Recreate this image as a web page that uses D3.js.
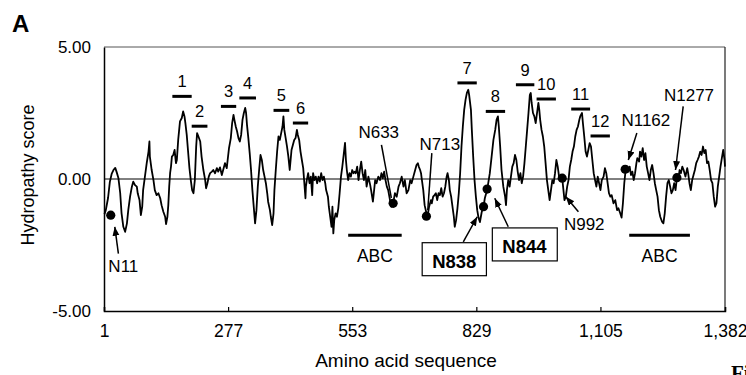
<!DOCTYPE html>
<html><head><meta charset="utf-8">
<script src="https://cdn.jsdelivr.net/npm/d3@7"></script>
<style>html,body{margin:0;padding:0;background:#fff;} svg{display:block;font-family:"Liberation Sans",Arial,Helvetica,sans-serif;}</style>
</head><body><svg id="c" width="746" height="375"></svg>
<script>
// Hydropathy profile: [residue, score]
const profile = [
[2,-1.33],[5,-1.18],[10,-0.72],[14,-0.11],[18,0.19],[22,0.34],[26,0.42],[29,0.27],[33,0.04],[37,-0.53],
[40,-1.29],[44,-1.81],[48,-2.00],[52,-1.68],[55,-1.18],[59,-0.67],[63,-0.29],[66,-0.10],[70,-0.23],[74,-0.29],
[76,-0.54],[80,-0.80],[83,-1.37],[86,-1.05],[88,-0.42],[92,0.09],[96,0.60],[100,1.04],[102,1.42],[103,0.85],
[107,0.34],[111,-0.04],[114,-0.42],[118,-0.61],[122,-0.54],[126,-0.73],[129,-0.99],[133,-1.24],[137,-1.43],[139,-1.71],
[142,-1.43],[144,-0.99],[146,-0.29],[148,0.22],[150,0.47],[152,0.85],[155,0.91],[158,1.10],[161,0.60],[163,0.72],
[166,1.48],[170,2.18],[174,2.31],[177,2.56],[180,2.37],[182,2.12],[185,1.67],[188,1.04],[191,0.41],[194,-0.04],
[197,-0.42],[200,-0.54],[203,-0.04],[206,1.23],[208,1.74],[211,1.61],[215,1.42],[218,0.85],[222,0.34],[226,-0.04],
[228,-0.35],[231,-0.16],[234,0.09],[237,0.22],[241,0.28],[244,0.34],[248,0.22],[252,0.41],[255,0.28],[259,0.44],
[263,0.15],[266,0.34],[270,0.60],[274,0.41],[276,0.72],[279,1.17],[283,1.55],[286,2.12],[289,2.43],[291,2.24],
[294,1.99],[297,1.80],[300,1.55],[303,1.42],[306,1.67],[309,2.24],[312,2.50],[315,2.69],[317,2.50],[319,2.05],
[322,1.55],[325,0.98],[328,0.34],[331,-0.42],[334,-1.05],[337,-1.68],[340,-1.18],[343,-0.29],[346,0.34],[349,0.91],
[352,0.72],[355,0.34],[358,0.09],[361,-0.16],[364,-0.54],[366,-0.86],[370,-1.18],[372,-1.43],[375,-1.75],[378,-1.30],
[380,-0.42],[383,0.34],[386,1.04],[389,1.61],[392,1.48],[395,1.74],[398,1.99],[400,2.37],[402,1.86],[405,1.55],
[408,1.23],[411,0.85],[414,0.34],[416,0.72],[418,1.10],[421,1.29],[424,1.48],[427,1.55],[430,1.86],[432,1.67],
[435,1.48],[438,1.04],[441,0.72],[444,0.41],[446,-0.04],[449,-0.73],[450,-0.29],[452,-0.04],[455,0.22],[458,-0.16],
[461,0.09],[464,-0.61],[466,0.22],[469,-0.04],[472,0.09],[475,-0.16],[478,0.09],[481,-0.10],[484,0.22],[487,-0.04],
[490,0.09],[493,-0.16],[495,-0.42],[499,-0.67],[501,-1.05],[504,-1.43],[507,-1.81],[509,-1.05],[511,-2.06],[513,-1.56],
[516,-1.30],[519,-1.43],[522,-1.11],[525,-0.54],[528,0.09],[531,0.47],[534,0.91],[537,1.37],[539,0.72],[541,0.34],
[544,-0.04],[547,0.22],[550,0.09],[553,0.34],[556,0.22],[559,0.28],[561,0.22],[564,0.47],[567,-0.04],[570,0.34],
[573,0.66],[576,0.22],[579,-0.04],[582,0.34],[585,-0.29],[589,0.09],[593,-0.23],[595,-0.42],[599,-0.86],[601,-0.54],
[604,-0.04],[607,-0.16],[611,0.09],[615,-0.04],[618,0.22],[621,0.03],[624,0.28],[627,-0.04],[630,-0.29],[633,-0.42],
[637,-0.80],[640,-1.05],[644,-0.92],[648,-0.54],[652,-0.67],[656,-0.29],[659,-0.16],[663,0.09],[667,-0.29],[670,-0.04],
[674,-0.54],[678,-0.42],[682,-0.04],[685,-0.16],[689,0.09],[693,0.34],[696,0.53],[699,0.60],[701,0.47],[704,0.34],
[706,0.22],[708,-0.04],[711,-0.42],[714,-0.99],[719,-1.37],[722,-1.25],[724,-1.05],[728,-0.80],[730,-0.92],[733,-0.67],
[736,-0.61],[739,-0.54],[742,-0.80],[745,-0.54],[748,-0.61],[751,-0.35],[754,-0.67],[757,-0.54],[760,-0.29],[763,0.09],
[765,0.22],[768,-0.04],[770,-0.42],[773,-0.67],[777,-1.18],[779,-1.43],[781,-1.81],[784,-1.56],[787,-1.11],[790,-0.54],
[793,0.22],[796,1.23],[799,1.99],[802,2.62],[805,3.00],[808,3.26],[811,3.38],[813,3.19],[817,2.62],[819,1.86],
[822,0.85],[825,-0.04],[828,-0.67],[831,-1.18],[834,-1.48],[837,-1.63],[841,-1.25],[845,-1.05],[848,-0.72],[853,-0.42],
[859,0.22],[863,0.85],[867,1.48],[871,1.86],[874,2.24],[877,2.37],[879,1.99],[882,1.23],[885,0.34],[889,-0.29],
[893,-0.67],[895,-0.99],[897,-0.42],[900,-0.04],[903,-0.29],[906,0.09],[909,0.47],[912,0.60],[915,0.91],[918,0.72],
[921,0.28],[924,-0.04],[927,0.22],[930,-0.16],[933,0.09],[936,0.60],[939,1.23],[942,1.86],[945,2.50],[948,3.19],
[950,3.26],[952,2.88],[955,2.50],[958,2.37],[961,2.12],[964,2.50],[967,2.88],[969,2.62],[971,2.24],[974,1.86],
[977,1.61],[980,1.23],[983,0.60],[986,-0.04],[989,-0.42],[992,-0.80],[995,-0.42],[998,-0.04],[1001,-0.16],[1004,0.22],
[1007,0.72],[1010,0.47],[1013,0.09],[1016,-0.04],[1020,0.03],[1025,-0.80],[1028,-0.67],[1031,-0.29],[1034,-0.04],[1037,0.47],
[1040,0.72],[1043,1.04],[1046,1.23],[1049,1.61],[1052,1.86],[1055,1.99],[1058,2.24],[1060,2.37],[1064,2.50],[1066,2.12],
[1069,1.61],[1072,1.04],[1075,0.85],[1078,1.10],[1081,1.36],[1084,1.23],[1087,0.72],[1090,0.22],[1093,-0.04],[1096,-0.29],
[1099,0.09],[1102,-0.16],[1105,-0.42],[1108,-0.04],[1112,0.09],[1115,0.41],[1118,0.22],[1121,-0.16],[1124,-0.54],[1127,-0.67],
[1130,-0.61],[1134,-0.92],[1138,-0.80],[1142,-1.18],[1145,-1.11],[1149,-1.30],[1152,-1.46],[1155,-0.92],[1158,-0.16],[1161,0.34],
[1164,0.47],[1167,0.28],[1170,0.47],[1173,0.15],[1176,0.28],[1179,-0.04],[1182,0.22],[1185,0.60],[1187,0.79],[1191,0.66],
[1193,1.04],[1196,0.85],[1199,1.17],[1202,0.72],[1205,0.98],[1208,0.47],[1211,0.22],[1214,-0.04],[1217,0.34],[1220,0.53],
[1223,0.22],[1226,-0.16],[1229,-0.42],[1232,-0.67],[1235,-1.18],[1238,-1.43],[1242,-1.62],[1245,-1.68],[1248,-1.30],[1251,-0.67],
[1254,-0.16],[1257,-0.04],[1260,-0.29],[1263,-0.54],[1266,-0.42],[1269,-0.16],[1272,-0.42],[1275,0.04],[1278,-0.04],[1281,0.34],
[1284,0.22],[1287,0.47],[1290,0.34],[1294,0.09],[1298,0.41],[1300,0.22],[1303,-0.16],[1306,-0.42],[1309,-0.04],[1312,0.15],
[1315,0.34],[1318,0.60],[1321,0.72],[1324,0.85],[1327,1.04],[1330,0.91],[1333,1.23],[1336,0.98],[1339,1.10],[1342,0.60],
[1345,0.66],[1348,0.34],[1351,-0.04],[1354,-0.16],[1357,-0.67],[1360,-1.05],[1363,-0.92],[1366,-0.29],[1369,0.09],[1372,0.47],
[1375,0.79],[1378,1.10],[1381,0.72],[1382,0.47]
];
const xTicks = [1, 277, 553, 829, 1105, 1382];
const yTicks = [-5, 0, 5];

// Transmembrane segments
const tmLabels = ["1","2","3","4","5","6","7","8","9","10","11","12"];
const tmStart  = [153,196,261,302,378,421,787,850,917,963,1040,1083];
const tmEnd    = [196,231,295,339,413,455,830,893,958,1006,1082,1126];
const tmScore  = [3.13,2.00,2.75,3.07,2.60,2.12,3.64,2.56,3.57,3.03,2.65,1.63];

// ABC domains
const abcLabels = ["ABC","ABC"];
const abcStart = [544, 1169];
const abcEnd   = [663, 1304];
const abcScore = [-2.13, -2.13];

// Glycosylation sites
const siteLabels = ["N11","N633","N713","N838","N844","N992","N1162","N1277"];
const siteRes    = [16, 644, 718, 845, 853, 1020, 1160, 1275];
const siteScore  = [-1.37, -0.92, -1.41, -1.05, -0.38, 0.03, 0.37, 0.05];

const m = {l:104, r:725, t:47, b:311};
const svg = d3.select("#c");
const x = d3.scaleLinear().domain([1,1382]).range([m.l, m.r]);
const y = d3.scaleLinear().domain([-5,5]).range([m.b, m.t]);

svg.append("defs").append("marker")
  .attr("id","ah").attr("markerUnits","userSpaceOnUse")
  .attr("markerWidth",10).attr("markerHeight",8)
  .attr("refX",9).attr("refY",3.5).attr("orient","auto")
  .append("path").attr("d","M0,0 L9,3.5 L0,7 Z").attr("fill","#000");

// frame
svg.append("line").attr("x1",m.l).attr("x2",m.r).attr("y1",m.t).attr("y2",m.t).attr("stroke","#555").attr("stroke-width",1);
svg.append("line").attr("x1",m.r).attr("x2",m.r).attr("y1",m.t).attr("y2",m.b).attr("stroke","#222").attr("stroke-width",1.2);

// zero line
svg.append("line").attr("x1",m.l).attr("x2",m.r).attr("y1",y(0)).attr("y2",y(0)).attr("stroke","#000").attr("stroke-width",1);

// axes
const xa = svg.append("g").attr("transform",`translate(0,${m.b})`)
  .call(d3.axisBottom(x).tickValues(xTicks).tickFormat(d3.format(",")).tickSize(-4).tickPadding(0));
xa.select(".domain").attr("stroke","#000").attr("stroke-width",1.5);
xa.selectAll(".tick line").attr("stroke","#000").attr("stroke-width",1.2);
xa.selectAll(".tick text").attr("y",26).attr("dy",0).attr("font-size",17.5).attr("fill","#000")
  .attr("font-family",'"Liberation Sans",Arial,sans-serif');

const ya = svg.append("g").attr("transform",`translate(${m.l},0)`)
  .call(d3.axisLeft(y).tickValues(yTicks).tickFormat(d => d.toFixed(2)).tickSize(0).tickPadding(13));
ya.select(".domain").attr("stroke","#000").attr("stroke-width",1.5);
ya.selectAll(".tick text").attr("font-size",17).attr("fill","#000")
  .attr("font-family",'"Liberation Sans",Arial,sans-serif');

// profile line
svg.append("path").datum(profile)
  .attr("d", d3.line().x(d => x(d[0])).y(d => y(d[1])))
  .attr("fill","none").attr("stroke","#000").attr("stroke-width",1.8).attr("stroke-linejoin","round");

// TM bars
tmLabels.forEach((lab,i) => {
  svg.append("line").attr("x1",x(tmStart[i])).attr("x2",x(tmEnd[i]))
    .attr("y1",y(tmScore[i])).attr("y2",y(tmScore[i])).attr("stroke","#000").attr("stroke-width",3);
  svg.append("text").attr("x",(x(tmStart[i])+x(tmEnd[i]))/2).attr("y",y(tmScore[i])-9)
    .attr("text-anchor","middle").attr("font-size",16.5).text(lab);
});

// ABC bars
abcLabels.forEach((lab,i) => {
  svg.append("line").attr("x1",x(abcStart[i])).attr("x2",x(abcEnd[i]))
    .attr("y1",y(abcScore[i])).attr("y2",y(abcScore[i])).attr("stroke","#000").attr("stroke-width",3);
  svg.append("text").attr("x",(x(abcStart[i])+x(abcEnd[i]))/2).attr("y",y(abcScore[i])+27)
    .attr("text-anchor","middle").attr("font-size",17.5).text(lab);
});

// site annotations (label anchor and arrow in data units)
const notes = {
  "N11":   {tx:44,   ty:-3.52, from:[33,-2.83],  to:[25,-1.81],  head:true},
  "N633":  {tx:612,  ty:1.55,  from:[618,1.29],  to:[640,-0.72], head:false},
  "N713":  {tx:748,  ty:1.10,  from:[730,0.98],  to:[721,-1.18], head:false},
  "N838":  {tx:780,  ty:-3.36, from:[800,-2.38], to:[831,-1.43], head:true, box:true},
  "N844":  {tx:936,  ty:-2.80, from:[900,-1.81], to:[870,-0.73], head:true, box:true},
  "N992":  {tx:1069, ty:-1.94, from:[1056,-1.24],to:[1028,-0.67],head:true},
  "N1162": {tx:1206, ty:1.99,  from:[1186,1.74], to:[1167,0.72], head:true},
  "N1277": {tx:1302, ty:2.94,  from:[1289,2.75], to:[1272,0.34], head:true}
};

siteLabels.forEach(lab => {
  const n = notes[lab];
  const ln = svg.append("line").attr("x1",x(n.from[0])).attr("y1",y(n.from[1]))
    .attr("x2",x(n.to[0])).attr("y2",y(n.to[1])).attr("stroke","#000").attr("stroke-width",1.5);
  if (n.head) ln.attr("marker-end","url(#ah)");
  const g = svg.append("g");
  const r = n.box ? g.append("rect") : null;
  const t = g.append("text").attr("x",x(n.tx)).attr("y",y(n.ty)).attr("text-anchor","middle")
    .attr("font-size", n.box ? 18.5 : 17).attr("font-weight", n.box ? "bold" : "normal").text(lab);
  if (r) {
    const bb = t.node().getBBox();
    r.attr("x",bb.x-10).attr("y",bb.y-8).attr("width",bb.width+20).attr("height",bb.height+12)
      .attr("fill","#fff").attr("stroke","#000").attr("stroke-width",1.2);
  }
});

// dots
svg.selectAll("circle.site").data(siteRes).enter().append("circle").attr("class","site")
  .attr("cx",d => x(d)).attr("cy",(d,i) => y(siteScore[i])).attr("r",4.6).attr("fill","#000");

// titles
svg.append("text").attr("x",12).attr("y",32).attr("font-size",24).attr("font-weight","bold").text("A");
svg.append("text").attr("transform","translate(34,175) rotate(-90)").attr("text-anchor","middle")
  .attr("font-size",18).text("Hydropathy score");
svg.append("text").attr("x",406).attr("y",367).attr("text-anchor","middle").attr("font-size",19).text("Amino acid sequence");
svg.append("text").attr("x",731).attr("y",380).attr("font-size",21).attr("font-weight","bold")
  .attr("font-family",'"Liberation Serif","DejaVu Serif",serif').text("Fi");
</script></body></html>
